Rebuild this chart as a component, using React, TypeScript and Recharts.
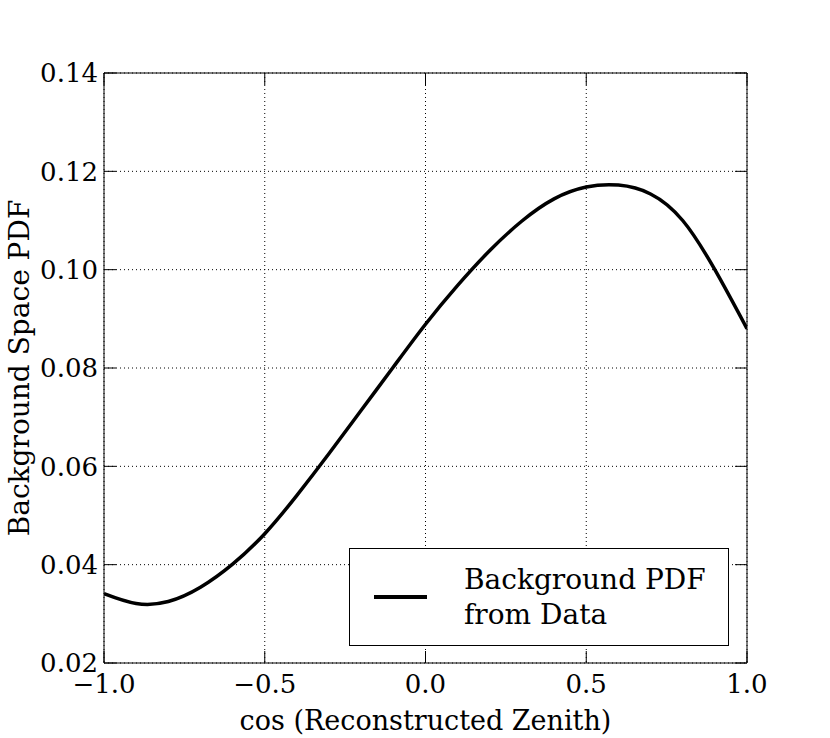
import { LineChart, Line, XAxis, YAxis, CartesianGrid, Label } from 'recharts';

// cos(zenith) sample points and PDF values
const cosZenith = [
  -1.0, -0.9, -0.8, -0.7, -0.6, -0.5, -0.4, -0.3, -0.2, -0.1,
  0.0, 0.1, 0.2, 0.3, 0.4, 0.5, 0.6, 0.7, 0.8, 0.9, 1.0,
];
const pdfValues = [
  0.0341, 0.0321, 0.0325, 0.0354, 0.0401, 0.0463, 0.0541, 0.0626, 0.0714, 0.0802,
  0.0889, 0.0968, 0.1039, 0.1099, 0.1144, 0.1168, 0.1172, 0.1154, 0.1100, 0.1000, 0.0880,
];

const xTicks = [-1.0, -0.5, 0.0, 0.5, 1.0];
const yTicks = [0.02, 0.04, 0.06, 0.08, 0.1, 0.12, 0.14];

const data = cosZenith.map((x, i) => ({ x, pdf: pdfValues[i] }));

const FONT = '"DejaVu Serif", serif';
const tickStyle = { fill: '#000', fontSize: 26, fontFamily: FONT };
const axisStroke = { stroke: '#000', strokeWidth: 1 };

const fmtX = (v: number) => (v < 0 ? '\u2212' : '') + Math.abs(v).toFixed(1);
const fmtY = (v: number) => v.toFixed(2);
const blank = () => '';

// legend drawn as an overlay so it takes no space from the plot
function LegendBox() {
  return (
    <div
      style={{
        position: 'absolute',
        left: 349,
        top: 548,
        width: 380,
        height: 98,
        border: '1px solid #000',
        background: '#fff',
        display: 'flex',
        alignItems: 'center',
        fontFamily: FONT,
        fontSize: 28,
        lineHeight: '35px',
        color: '#000',
        boxSizing: 'border-box',
      }}
    >
      <div style={{ width: 53, height: 4, background: '#000', marginLeft: 24, marginRight: 37 }} />
      <div>
        Background PDF
        <br />
        from Data
      </div>
    </div>
  );
}

export default function App() {
  return (
    <div style={{ position: 'absolute', left: 0, top: 0, width: 830, height: 738, background: '#fff' }}>
      <LineChart width={830} height={738} data={data} margin={{ top: 63, right: 73, left: 0, bottom: 0 }}>
        <CartesianGrid stroke="#000" strokeDasharray="1 3" strokeWidth={1} />
        <XAxis
          type="number"
          dataKey="x"
          domain={[-1, 1]}
          ticks={xTicks}
          tickFormatter={fmtX}
          height={75}
          tickSize={-12}
          tickMargin={24}
          tick={tickStyle}
          axisLine={axisStroke}
          tickLine={axisStroke}
          allowDataOverflow
        >
          <Label
            value="cos (Reconstructed Zenith)"
            position="insideBottom"
            offset={8}
            style={{ fill: '#000', fontSize: 27, fontFamily: FONT }}
          />
        </XAxis>
        <XAxis
          xAxisId="top"
          orientation="top"
          type="number"
          dataKey="x"
          domain={[-1, 1]}
          ticks={xTicks}
          tickFormatter={blank}
          height={10}
          tickSize={-12}
          axisLine={axisStroke}
          tickLine={axisStroke}
          allowDataOverflow
        />
        <YAxis
          type="number"
          domain={[0.02, 0.14]}
          ticks={yTicks}
          tickFormatter={fmtY}
          width={104}
          tickSize={-12}
          tickMargin={18}
          tick={tickStyle}
          axisLine={axisStroke}
          tickLine={axisStroke}
          allowDataOverflow
        >
          <Label
            value="Background Space PDF"
            angle={-90}
            position="insideLeft"
            offset={19}
            style={{ fill: '#000', fontSize: 28, fontFamily: FONT, textAnchor: 'middle' }}
          />
        </YAxis>
        <YAxis
          yAxisId="right"
          orientation="right"
          type="number"
          domain={[0.02, 0.14]}
          ticks={yTicks}
          tickFormatter={blank}
          width={10}
          tickSize={-12}
          axisLine={axisStroke}
          tickLine={axisStroke}
          allowDataOverflow
        />
        <Line
          type="natural"
          dataKey="pdf"
          stroke="#000"
          strokeWidth={3.5}
          dot={false}
          isAnimationActive={false}
        />
      </LineChart>
      <LegendBox />
    </div>
  );
}
